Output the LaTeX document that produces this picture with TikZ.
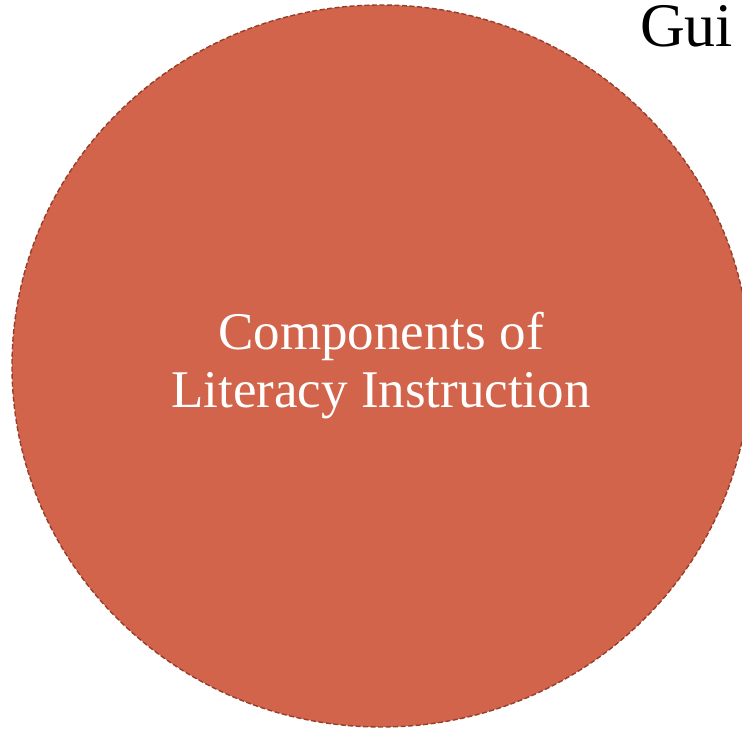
\documentclass[tikz,border=0pt]{standalone}
\usepackage{fontspec}
\setmainfont{Liberation Serif}
\usetikzlibrary{shapes.geometric, positioning}
\definecolor{partfill}{RGB}{209, 100, 74}
\definecolor{partedge}{RGB}{150, 62, 44}

\begin{document}
\begin{tikzpicture}[
  x=1pt, y=1pt,
  part/.style={ellipse, draw=partedge, dash pattern=on 5pt off 2.5pt, line width=1.4pt, fill=partfill, inner sep=0pt,
    minimum width=738pt, minimum height=722pt, text=white, align=center,
    font=\fontsize{53}{58}\selectfont},
  heading/.style={anchor=base west, inner sep=0pt, font=\fontsize{62}{70}\selectfont}
]
  \useasboundingbox (0,0) rectangle (742,729);

  % Main circle
  \node[part] (components) at (381, 363) {Components of\\Literacy Instruction};

  % Cut-off title
  \node[heading] (title) at (640, 682) {Gui};
\end{tikzpicture}
\end{document}
